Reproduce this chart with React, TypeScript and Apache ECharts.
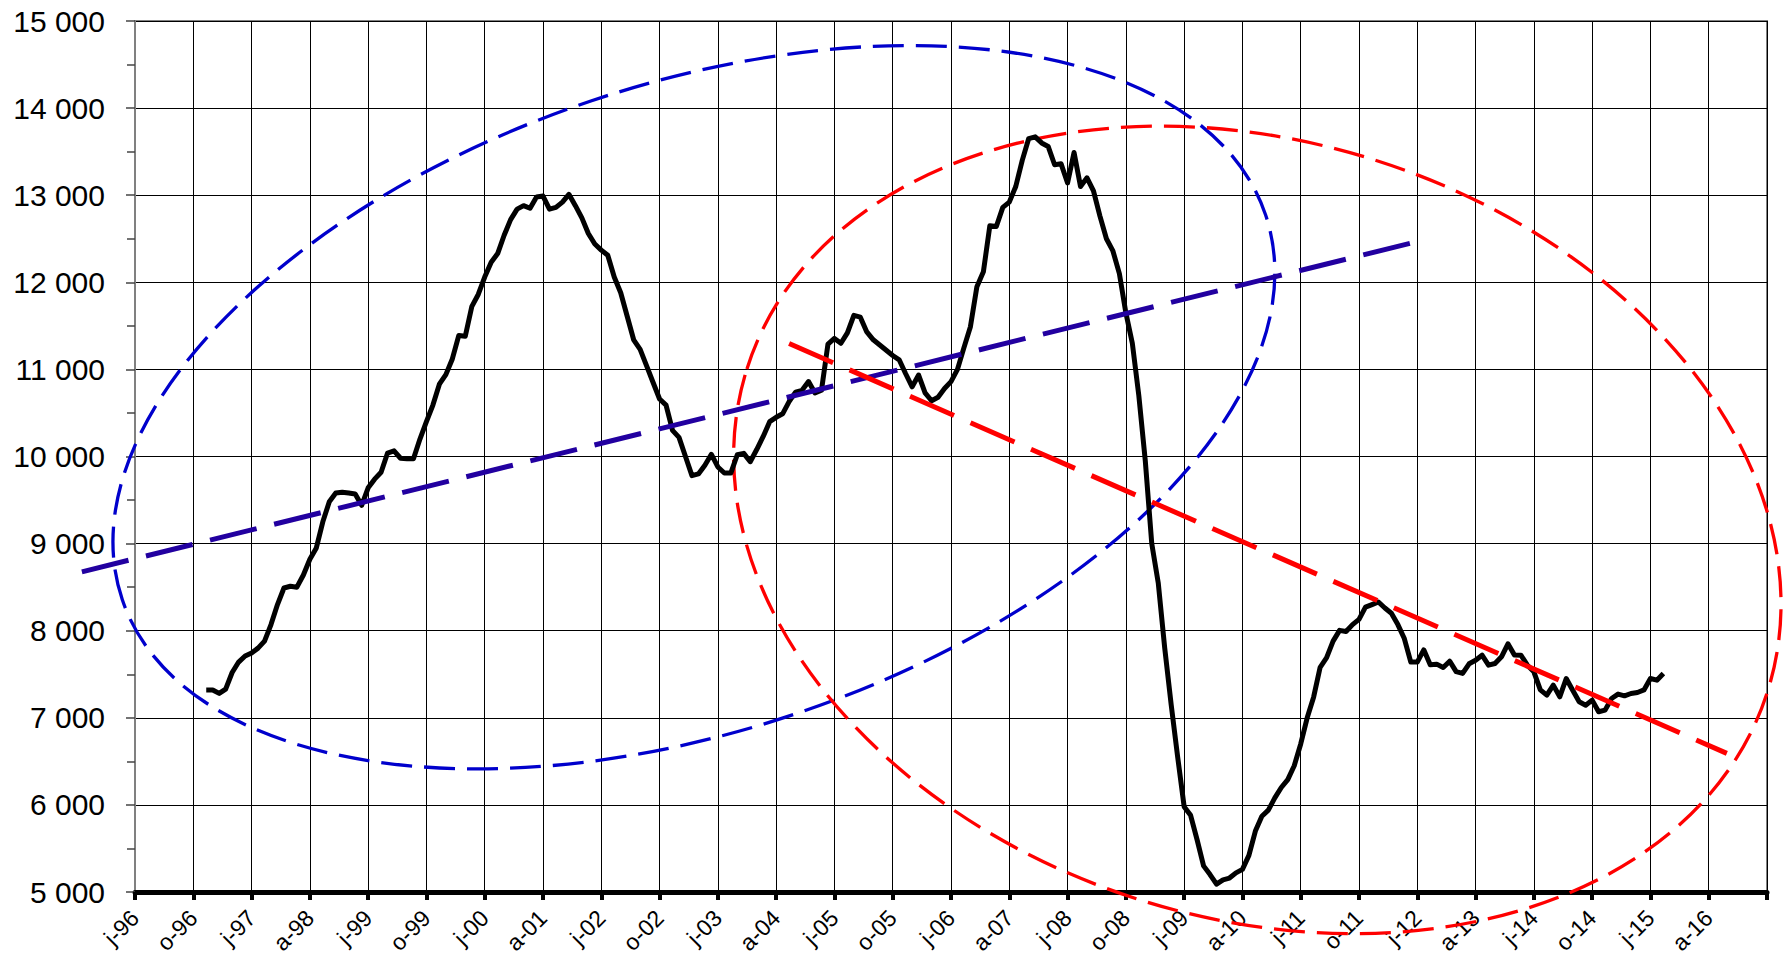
import React, { useEffect, useRef } from "react";
import * as echarts from "echarts";

// Months are counted from January 1996 (0 = j-96).
const START_MONTH = 11; // first observation: December 1996
const MONTH_LETTERS = ["j", "f", "m", "a", "m", "j", "j", "a", "s", "o", "n", "d"];
const FIRST_YEAR = 1996;

const X_MIN = 0;
const X_MAX = 252;
const X_STEP = 9;
const Y_MIN = 5000;
const Y_MAX = 15000;
const Y_STEP = 1000;

// Monthly values, December 1996 -> September 2015
const VALUES: number[] = [
  7320, 7320, 7280, 7330, 7520, 7640, 7710, 7745, 7800, 7880, // 11-20
  8070, 8300, 8490, 8510, 8500, 8640, 8820, 8950, 9250, 9480, // 21-30
  9580, 9590, 9580, 9570, 9440, 9640, 9740, 9820, 10040, 10065, // 31-40
  9980, 9975, 9975, 10200, 10400, 10590, 10830, 10940, 11120, 11390, // 41-50
  11380, 11720, 11860, 12060, 12230, 12330, 12540, 12720, 12840, 12880, // 51-60
  12850, 12980, 12990, 12840, 12860, 12920, 13010, 12880, 12740, 12560, // 61-70
  12440, 12370, 12310, 12060, 11880, 11610, 11340, 11230, 11040, 10850, // 71-80
  10660, 10590, 10300, 10220, 10000, 9780, 9800, 9900, 10025, 9880, // 81-90
  9810, 9810, 10020, 10036, 9940, 10080, 10230, 10400, 10450, 10490, // 91-100
  10630, 10740, 10760, 10860, 10730, 10760, 11290, 11356, 11300, 11420, // 101-110
  11620, 11600, 11430, 11340, 11280, 11220, 11160, 11110, 10950, 10800, // 111-120
  10935, 10730, 10640, 10680, 10780, 10860, 11000, 11250, 11490, 11950, // 121-130
  12120, 12650, 12640, 12860, 12920, 13100, 13400, 13650, 13670, 13600, // 131-140
  13560, 13350, 13360, 13140, 13490, 13100, 13200, 13050, 12760, 12500, // 141-150
  12360, 12100, 11650, 11300, 10700, 9950, 9000, 8550, 7800, 7150, // 151-160
  6550, 5980, 5880, 5600, 5300, 5200, 5090, 5140, 5160, 5220, // 161-170
  5260, 5420, 5700, 5870, 5940, 6080, 6200, 6290, 6450, 6700, // 171-180
  7000, 7240, 7580, 7690, 7880, 8004, 7990, 8070, 8130, 8270, // 181-190
  8300, 8330, 8260, 8200, 8070, 7910, 7640, 7640, 7780, 7610, // 191-200
  7616, 7577, 7650, 7530, 7509, 7620, 7660, 7719, 7604, 7623, // 201-210
  7700, 7850, 7720, 7719, 7604, 7528, 7320, 7260, 7375, 7241, // 211-220
  7451, 7317, 7184, 7145, 7203, 7069, 7088, 7222, 7272, 7252, // 221-230
  7279, 7290, 7320, 7451, 7432, 7509, // 231-236
];

// Trend lines drawn over the chart: [monthStart, valueStart, monthEnd, valueEnd]
const BLUE_TREND: number[] = [-8.2, 8676, 199.35, 12493];
const RED_TREND: number[] = [101.0, 11298, 245.8, 6592];

// Ellipse annotation centres: [month, value]
const BLUE_ELLIPSE_CENTER: number[] = [86.3, 10566];
const RED_ELLIPSE_CENTER: number[] = [173.3, 9157];

const FONT = "'Liberation Sans', Arial, Helvetica, sans-serif";

function monthLabel(v: number): string {
  if (v >= X_MAX) return "";
  const m = Math.round(v);
  const year = FIRST_YEAR + Math.floor(m / 12);
  return MONTH_LETTERS[m % 12] + "-" + String(year % 100).padStart(2, "0");
}

function thousands(v: number): string {
  return String(v).replace(/\B(?=(\d{3})+(?!\d))/g, " ");
}

function ellipseSeries(center: number[], rx: number, ry: number, rotDeg: number, color: string) {
  return {
    type: "custom",
    coordinateSystem: "cartesian2d",
    clip: false,
    silent: true,
    z: 4,
    data: [center],
    renderItem: (_params: any, api: any) => {
      const c = api.coord([api.value(0), api.value(1)]);
      return {
        type: "ellipse",
        x: c[0],
        y: c[1],
        rotation: (rotDeg * Math.PI) / 180,
        shape: { cx: 0, cy: 0, rx, ry },
        style: { fill: "none", stroke: color, lineWidth: 3.3, lineDash: [31, 12] },
      };
    },
  };
}

function trendSeries(seg: number[], color: string) {
  return {
    type: "custom",
    coordinateSystem: "cartesian2d",
    clip: false,
    silent: true,
    z: 6,
    encode: { x: [0, 2], y: [1, 3] },
    data: [seg],
    renderItem: (_params: any, api: any) => {
      const p1 = api.coord([api.value(0), api.value(1)]);
      const p2 = api.coord([api.value(2), api.value(3)]);
      return {
        type: "line",
        shape: { x1: p1[0], y1: p1[1], x2: p2[0], y2: p2[1] },
        style: { stroke: color, lineWidth: 5, lineDash: [48, 18], lineCap: "butt" },
      };
    },
  };
}

export default function App() {
  const ref = useRef<HTMLDivElement>(null);

  useEffect(() => {
    if (!ref.current) return;
    const chart = echarts.init(ref.current, undefined, { renderer: "svg" });
    const lineData = VALUES.map((v, i) => [START_MONTH + i, v]);

    chart.setOption({
      animation: false,
      backgroundColor: "#ffffff",
      grid: {
        left: 135,
        right: 18,
        top: 21,
        bottom: 74,
        show: true,
        borderColor: "#808080",
        borderWidth: 2,
        containLabel: false,
      },
      xAxis: {
        type: "value",
        min: X_MIN,
        max: X_MAX,
        interval: X_STEP,
        axisLine: { show: true, onZero: false, lineStyle: { color: "#000", width: 5 } },
        axisTick: { show: true, length: 8, lineStyle: { color: "#000", width: 4 } },
        splitLine: { show: true, lineStyle: { color: "#000", width: 1 } },
        axisLabel: {
          rotate: 45,
          fontSize: 23,
          fontFamily: FONT,
          color: "#000",
          margin: 22,
          padding: [13, 0, 0, 0],
          formatter: monthLabel,
        },
      },
      yAxis: {
        type: "value",
        min: Y_MIN,
        max: Y_MAX,
        interval: Y_STEP,
        axisLine: { show: true, lineStyle: { color: "#808080", width: 2 } },
        axisTick: { show: true, length: 9, lineStyle: { color: "#444", width: 1.5 } },
        minorTick: { show: true, splitNumber: 2, length: 8, lineStyle: { color: "#444", width: 1.5 } },
        splitLine: { show: true, lineStyle: { color: "#000", width: 1 } },
        axisLabel: {
          fontSize: 30,
          fontFamily: FONT,
          color: "#000",
          margin: 30,
          formatter: thousands,
        },
      },
      series: [
        ellipseSeries(BLUE_ELLIPSE_CENTER, 603, 323, 18.6, "#0000cc"),
        ellipseSeries(RED_ELLIPSE_CENTER, 535, 388, -17.5, "#ff0000"),
        {
          type: "line",
          data: lineData,
          showSymbol: false,
          symbol: "none",
          z: 5,
          lineStyle: { color: "#000", width: 5, join: "round" },
        },
        trendSeries(BLUE_TREND, "#2200a0"),
        trendSeries(RED_TREND, "#ff0000"),
      ],
    });

    return () => chart.dispose();
  }, []);

  return (
    <div
      ref={ref}
      style={{ position: "absolute", left: 0, top: 0, width: 1785, height: 966, background: "#fff" }}
    />
  );
}
